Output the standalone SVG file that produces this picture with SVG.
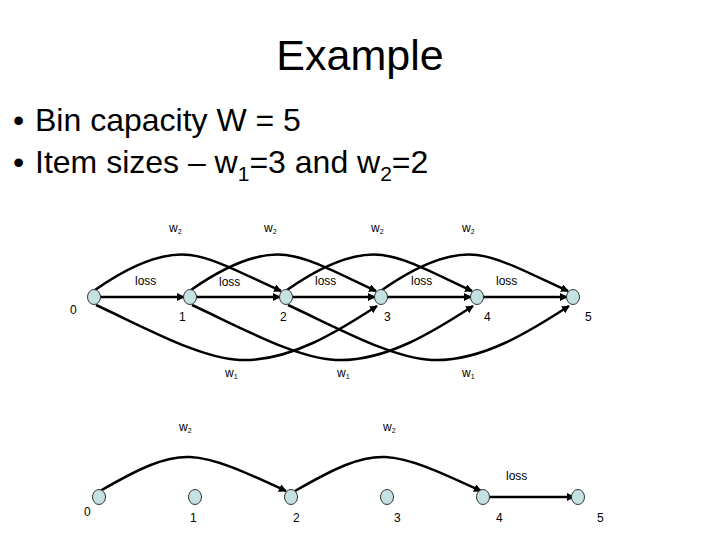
<svg xmlns="http://www.w3.org/2000/svg" width="720" height="540" viewBox="0 0 720 540">
<style>
text{font-family:"Liberation Sans",Arial,sans-serif;fill:#000}
.t{font-size:43px;text-anchor:middle}
.b{font-size:32px}
.n{font-size:12px}
.e{fill:none;stroke:#000;stroke-width:2.5}
.nd{fill:#c4e1e4;stroke:#333;stroke-width:1}
</style>
<defs>
<marker id="a" markerWidth="8" markerHeight="8" refX="7" refY="4" orient="auto" markerUnits="userSpaceOnUse">
<path d="M0,0 L8,4 L0,8 z" fill="#000"/>
</marker>
</defs>
<rect width="720" height="540" fill="#fff"/>
<text class="t" x="360" y="70">Example</text>
<text class="b" x="13" y="131">•</text>
<text class="b" x="35" y="131">Bin capacity W = 5</text>
<text class="b" x="13" y="173">•</text>
<text class="b" x="35" y="173">Item sizes – w<tspan font-size="21" dy="8">1</tspan><tspan dy="-8">=3 and w</tspan><tspan font-size="21" dy="8">2</tspan><tspan dy="-8">=2</tspan></text>
<g id="connectors">
<path class="e" marker-end="url(#a)" d="M100,297 L184,297"/>
<path class="e" marker-end="url(#a)" d="M196,297 L280,297"/>
<path class="e" marker-end="url(#a)" d="M292,297 L375,297"/>
<path class="e" marker-end="url(#a)" d="M387,297 L471,297"/>
<path class="e" marker-end="url(#a)" d="M483,297 L567,297"/>
<path class="e" marker-end="url(#a)" d="M95,290 C135,262 165,252 190,255 C215,258 245,275 281,291"/>
<path class="e" marker-end="url(#a)" d="M191,290 C231,262 261,252 286,255 C311,258 341,275 376,291"/>
<path class="e" marker-end="url(#a)" d="M287,290 C327,262 357,252 382,255 C407,258 437,275 472,291"/>
<path class="e" marker-end="url(#a)" d="M382,290 C422,262 452,252 477,255 C502,258 532,275 568,291"/>
<path class="e" marker-end="url(#a)" d="M96,305 C150,330 200,358 240,360 C290,362 340,330 377,306"/>
<path class="e" marker-end="url(#a)" d="M192,305 C246,330 296,358 336,360 C386,362 436,330 473,306"/>
<path class="e" marker-end="url(#a)" d="M288,305 C342,330 392,358 432,360 C482,362 532,330 569,306"/>
<path class="e" marker-end="url(#a)" d="M100,491 C140,468 165,456 190,457 C215,458 245,472 286,491"/>
<path class="e" marker-end="url(#a)" d="M295,491 C335,468 360,456 385,457 C410,458 440,472 481,491"/>
<path class="e" marker-end="url(#a)" d="M489,497 L574,497"/>
</g>
<g id="top-nodes">
<g id="t0"><ellipse class="nd" cx="94" cy="297" rx="6.5" ry="7.5"/><text class="n" x="70" y="314">0</text></g>
<g id="t1"><ellipse class="nd" cx="190" cy="297" rx="6.5" ry="7.5"/><text class="n" x="179" y="321">1</text></g>
<g id="t2"><ellipse class="nd" cx="286" cy="297" rx="6.5" ry="7.5"/><text class="n" x="280" y="321">2</text></g>
<g id="t3"><ellipse class="nd" cx="381" cy="297" rx="6.5" ry="7.5"/><text class="n" x="384" y="321">3</text></g>
<g id="t4"><ellipse class="nd" cx="477" cy="297" rx="6.5" ry="7.5"/><text class="n" x="484" y="321">4</text></g>
<g id="t5"><ellipse class="nd" cx="573" cy="297" rx="6.5" ry="7.5"/><text class="n" x="585" y="321">5</text></g>
</g>
<g id="bottom-nodes">
<g id="b0"><ellipse class="nd" cx="99" cy="497" rx="6.5" ry="7.5"/><text class="n" x="84" y="516">0</text></g>
<g id="b1"><ellipse class="nd" cx="195" cy="497" rx="6.5" ry="7.5"/><text class="n" x="190" y="522">1</text></g>
<g id="b2"><ellipse class="nd" cx="291" cy="497" rx="6.5" ry="7.5"/><text class="n" x="293" y="522">2</text></g>
<g id="b3"><ellipse class="nd" cx="387" cy="497" rx="6.5" ry="7.5"/><text class="n" x="394" y="522">3</text></g>
<g id="b4"><ellipse class="nd" cx="483" cy="497" rx="6.5" ry="7.5"/><text class="n" x="496" y="522">4</text></g>
<g id="b5"><ellipse class="nd" cx="578" cy="497" rx="6.5" ry="7.5"/><text class="n" x="597" y="522">5</text></g>
</g>
<g id="labels">
<text class="n" x="169" y="232">w<tspan font-size="7" dy="2">2</tspan></text>
<text class="n" x="264" y="232">w<tspan font-size="7" dy="2">2</tspan></text>
<text class="n" x="371" y="232">w<tspan font-size="7" dy="2">2</tspan></text>
<text class="n" x="462" y="232">w<tspan font-size="7" dy="2">2</tspan></text>
<text class="n" x="135" y="285">loss</text>
<text class="n" x="219" y="286">loss</text>
<text class="n" x="315" y="285">loss</text>
<text class="n" x="411" y="285">loss</text>
<text class="n" x="496" y="285">loss</text>
<text class="n" x="225" y="377">w<tspan font-size="7" dy="2">1</tspan></text>
<text class="n" x="337" y="377">w<tspan font-size="7" dy="2">1</tspan></text>
<text class="n" x="462" y="377">w<tspan font-size="7" dy="2">1</tspan></text>
<text class="n" x="179" y="431">w<tspan font-size="7" dy="2">2</tspan></text>
<text class="n" x="383" y="431">w<tspan font-size="7" dy="2">2</tspan></text>
<text class="n" x="506" y="480">loss</text>
</g>
</svg>
